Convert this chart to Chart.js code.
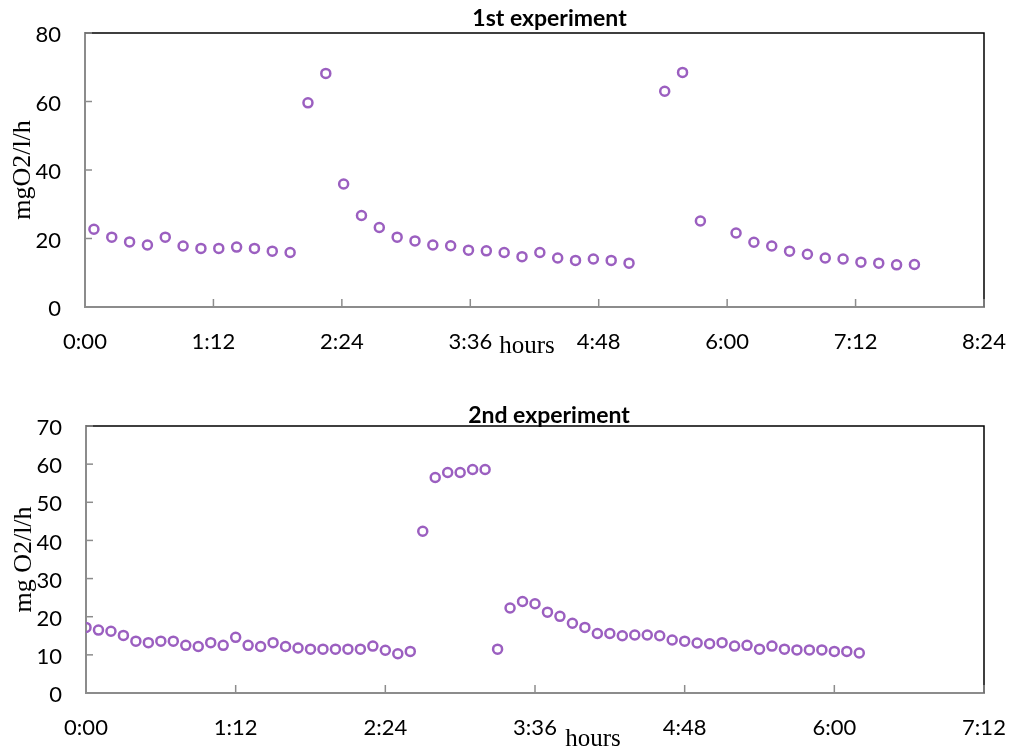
<!DOCTYPE html>
<html>
<head>
<meta charset="utf-8">
<script src="https://cdn.jsdelivr.net/npm/chart.js@4"></script>
<style>
  body { margin: 0; background: #fff; }
  canvas { position: absolute; left: 0; }
  #chart1 { top: 0; }
  #chart2 { top: 380px; }
</style>
</head>
<body>
<canvas id="chart1" width="1011" height="380"></canvas>
<canvas id="chart2" width="1011" height="373"></canvas>
<script>
// 1st experiment
var times1 = ['0:05', '0:15', '0:25', '0:35', '0:45', '0:55', '1:05', '1:15', '1:25', '1:35', '1:45', '1:55',
              '2:05', '2:15', '2:25', '2:35', '2:45', '2:55', '3:05', '3:15', '3:25', '3:35', '3:45', '3:55',
              '4:05', '4:15', '4:25', '4:35', '4:45', '4:55', '5:05', '5:25', '5:35', '5:45',
              '6:05', '6:15', '6:25', '6:35', '6:45', '6:55', '7:05', '7:15', '7:25', '7:35', '7:45'];
var values1 = [22.7, 20.4, 19.0, 18.1, 20.4, 17.8, 17.1, 17.1, 17.5, 17.1, 16.3, 15.9,
               59.6, 68.2, 35.9, 26.7, 23.2, 20.4, 19.3, 18.1, 17.9, 16.6, 16.4, 15.9,
               14.7, 15.9, 14.3, 13.6, 14.0, 13.6, 12.8, 63.0, 68.5, 25.1,
               21.6, 18.9, 17.8, 16.3, 15.4, 14.3, 14.0, 13.1, 12.8, 12.3, 12.4];
var xTicks1 = ['0:00', '1:12', '2:24', '3:36', '4:48', '6:00', '7:12', '8:24'];
var yTicks1 = [0, 20, 40, 60, 80];

// 2nd experiment
var times2 = ['0:00', '0:06', '0:12', '0:18', '0:24', '0:30', '0:36', '0:42', '0:48', '0:54',
              '1:00', '1:06', '1:12', '1:18', '1:24', '1:30', '1:36', '1:42', '1:48', '1:54',
              '2:00', '2:06', '2:12', '2:18', '2:24', '2:30', '2:36', '2:42', '2:48', '2:54',
              '3:00', '3:06', '3:12', '3:18', '3:24', '3:30', '3:36', '3:42', '3:48', '3:54',
              '4:00', '4:06', '4:12', '4:18', '4:24', '4:30', '4:36', '4:42', '4:48', '4:54',
              '5:00', '5:06', '5:12', '5:18', '5:24', '5:30', '5:36', '5:42', '5:48', '5:54',
              '6:00', '6:06', '6:12'];
var values2 = [17.2, 16.5, 16.2, 15.1, 13.6, 13.2, 13.6, 13.6, 12.5, 12.2,
               13.2, 12.5, 14.6, 12.5, 12.2, 13.2, 12.2, 11.8, 11.5, 11.5,
               11.5, 11.5, 11.5, 12.3, 11.2, 10.3, 10.9, 42.4, 56.5, 57.8,
               57.8, 58.6, 58.6, 11.5, 22.3, 24.0, 23.4, 21.2, 20.1, 18.3,
               17.2, 15.6, 15.6, 15.0, 15.2, 15.2, 15.0, 13.9, 13.6, 13.1,
               12.9, 13.2, 12.3, 12.5, 11.5, 12.3, 11.5, 11.3, 11.3, 11.3,
               10.9, 10.9, 10.5];
var xTicks2 = ['0:00', '1:12', '2:24', '3:36', '4:48', '6:00', '7:12'];
var yTicks2 = [0, 10, 20, 30, 40, 50, 60, 70];

function toMinutes(s) {
    var p = s.split(':');
    return parseInt(p[0], 10) * 60 + parseInt(p[1], 10);
}

// frame, inside tick marks, title and "hours" label
var extras = {
    id: 'extras',
    afterDraw: function(chart, args, opts) {
        var ctx = chart.ctx;
        var a = chart.chartArea;
        var xs = chart.scales.x, ys = chart.scales.y;
        ctx.save();
        ctx.strokeStyle = '#000';
        ctx.lineWidth = 1.5;
        ctx.beginPath();
        ctx.moveTo(a.left, a.top);
        ctx.lineTo(a.right, a.top);
        ctx.lineTo(a.right, a.bottom);
        ctx.stroke();

        ctx.strokeStyle = '#8c8c8c';
        ctx.lineWidth = 1.5;
        xs.ticks.forEach(function(t, i) {
            var x = xs.getPixelForTick(i);
            ctx.beginPath();
            ctx.moveTo(x, a.bottom);
            ctx.lineTo(x, a.bottom - 8);
            ctx.stroke();
        });
        ys.ticks.forEach(function(t, i) {
            var y = ys.getPixelForTick(i);
            ctx.beginPath();
            ctx.moveTo(a.left, y);
            ctx.lineTo(a.left + 7, y);
            ctx.stroke();
        });

        ctx.fillStyle = '#000';
        ctx.textAlign = 'center';
        ctx.textBaseline = 'alphabetic';
        ctx.font = 'bold 23px Lato';
        ctx.fillText(opts.title, (a.left + a.right) / 2 + opts.titleDx, a.top + opts.titleDy);
        ctx.font = '25px "Liberation Serif"';
        ctx.fillText(opts.xLabel, a.left + opts.xLabelDx, a.bottom + opts.xLabelDy);
        ctx.restore();
    }
};

function makeChart(id, times, values, xTicks, yTicks, yTitle, box, text) {
    var points = times.map(function(t, i) { return { x: toMinutes(t), y: values[i] }; });
    return new Chart(document.getElementById(id), {
        type: 'scatter',
        data: {
            datasets: [{
                data: points,
                pointStyle: 'circle',
                pointRadius: 4.5,
                pointHoverRadius: 4.5,
                pointBorderWidth: 2.5,
                borderColor: '#9b5fc0',
                backgroundColor: 'rgba(0,0,0,0)'
            }]
        },
        options: {
            responsive: false,
            animation: false,
            layout: { padding: { top: box.top, right: box.right, left: 0, bottom: 0 } },
            plugins: {
                legend: { display: false },
                tooltip: { enabled: false },
                extras: text
            },
            scales: {
                x: {
                    type: 'linear',
                    min: 0,
                    max: toMinutes(xTicks[xTicks.length - 1]),
                    afterBuildTicks: function(scale) {
                        scale.ticks = xTicks.map(function(s) { return { value: toMinutes(s) }; });
                    },
                    afterFit: function(scale) {
                        scale.height = box.xHeight;
                        scale.paddingLeft = 0;
                        scale.paddingRight = 0;
                    },
                    grid: { drawOnChartArea: false, drawTicks: false },
                    border: { color: '#8c8c8c', width: 2 },
                    ticks: {
                        color: '#000',
                        font: { family: 'Lato', size: 22 },
                        padding: 22,
                        maxRotation: 0,
                        callback: function(v, i) { return xTicks[i]; }
                    }
                },
                y: {
                    min: 0,
                    max: yTicks[yTicks.length - 1],
                    afterBuildTicks: function(scale) {
                        scale.ticks = yTicks.map(function(v) { return { value: v }; });
                    },
                    afterFit: function(scale) {
                        scale.width = box.left;
                        scale.paddingTop = 0;
                        scale.paddingBottom = 0;
                    },
                    grid: { drawOnChartArea: false, drawTicks: false },
                    border: { color: '#8c8c8c', width: 2 },
                    ticks: {
                        color: '#000',
                        font: { family: 'Lato', size: 22 },
                        padding: 24,
                        labelOffset: 2
                    },
                    title: {
                        display: true,
                        text: yTitle,
                        color: '#000',
                        font: { family: 'Liberation Serif', size: 26 },
                        padding: { top: box.titlePad, bottom: 0 }
                    }
                }
            }
        },
        plugins: [extras]
    });
}

makeChart('chart1', times1, values1, xTicks1, yTicks1, 'mgO2/l/h',
    { top: 33, right: 27, left: 85, xHeight: 73, titlePad: 8 },
    { title: '1st experiment', titleDx: 15, titleDy: -7, xLabel: 'hours', xLabelDx: 442, xLabelDy: 46 });

makeChart('chart2', times2, values2, xTicks2, yTicks2, 'mg O2/l/h',
    { top: 46, right: 27, left: 86, xHeight: 60, titlePad: 9 },
    { title: '2nd experiment', titleDx: 14, titleDy: -3, xLabel: 'hours', xLabelDx: 507, xLabelDy: 53 });
</script>
</body>
</html>
